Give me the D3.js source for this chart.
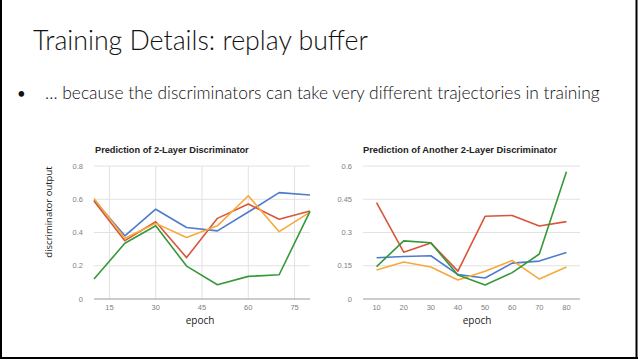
<!DOCTYPE html>
<html><head><meta charset="utf-8">
<script src="https://cdn.jsdelivr.net/npm/d3@7"></script>
<style>body{margin:0;background:#fff}svg{display:block}</style>
</head><body>
<script>
// ---- data ----
const epochs = [10, 20, 30, 40, 50, 60, 70, 80];
const seriesNames = ["blue", "red", "orange", "green"];
const leftBlue   = [0.595, 0.38, 0.54, 0.43, 0.41, 0.523, 0.64, 0.626];
const leftRed    = [0.589, 0.351, 0.465, 0.249, 0.485, 0.571, 0.48, 0.529];
const leftOrange = [0.605, 0.365, 0.455, 0.37, 0.44, 0.621, 0.405, 0.523];
const leftGreen  = [0.12, 0.335, 0.441, 0.198, 0.086, 0.136, 0.146, 0.527];
const rightBlue   = [0.186, 0.192, 0.195, 0.11, 0.095, 0.162, 0.171, 0.21];
const rightRed    = [0.435, 0.211, 0.253, 0.126, 0.373, 0.377, 0.329, 0.349];
const rightOrange = [0.131, 0.167, 0.144, 0.086, 0.125, 0.174, 0.09, 0.144];
const rightGreen  = [0.146, 0.262, 0.254, 0.108, 0.063, 0.119, 0.203, 0.574];
const leftXTicks = [15, 30, 45, 60, 75];
const leftYTicks = [0, 0.2, 0.4, 0.6, 0.8];
const rightXTicks = [10, 20, 30, 40, 50, 60, 70, 80];
const rightYTicks = [0, 0.15, 0.3, 0.45, 0.6];
const slideTitle = "Training Details: replay buffer";
const bulletText = "\u2026 because the discriminators can take very different trajectories in training";
const leftTitle = "Prediction of 2-Layer Discriminator";
const rightTitle = "Prediction of Another 2-Layer Discriminator";

const colors = {blue:"#4e7bcc", red:"#d9553a", orange:"#f5aa3a", green:"#36983a"};

const W = 638, H = 359;
const svg = d3.select("body").append("svg").attr("width", W).attr("height", H);

// slide border
svg.append("line").attr("x1",1).attr("x2",1).attr("y1",0).attr("y2",H).attr("stroke","#000").attr("stroke-width",2);
svg.append("line").attr("x1",636.5).attr("x2",636.5).attr("y1",0).attr("y2",H).attr("stroke","#000").attr("stroke-width",2);
svg.append("line").attr("x1",0).attr("x2",W).attr("y1",358).attr("y2",358).attr("stroke","#000").attr("stroke-width",2);

function fitText(sel, width){
  const n = sel.node(); const w = n.getComputedTextLength();
  const fs = parseFloat(sel.attr("font-size"));
  sel.attr("font-size", fs * width / w);
}

const t = svg.append("text").attr("x",33).attr("y",50).attr("font-family","Lato, 'Open Sans', sans-serif")
  .attr("font-weight",300).attr("font-size",28).attr("fill","#111").text(slideTitle);
fitText(t, 335);

svg.append("text").attr("x",17).attr("y",99).attr("font-family","Lato, sans-serif").attr("font-size",15).attr("fill","#111").text("\u2022");
const b = svg.append("text").attr("x",45).attr("y",99).attr("font-family","Lato, 'Open Sans', sans-serif")
  .attr("font-weight",300).attr("font-size",16).attr("fill","#111").text(bulletText);
fitText(b, 555);

function chart(cfg){
  const g = svg.append("g");
  const x = d3.scaleLinear().domain(cfg.xDomain).range([cfg.x0, cfg.x1]);
  const y = d3.scaleLinear().domain(cfg.yDomain).range([cfg.y0, cfg.y1]);
  g.selectAll(".hg").data(cfg.yTicks.filter(d=>d!==0)).join("line")
    .attr("x1",cfg.x0).attr("x2",cfg.x1).attr("y1",d=>y(d)).attr("y2",d=>y(d))
    .attr("stroke","#e2e2e2").attr("stroke-width",1);
  if (cfg.vgrid) {
    g.selectAll(".vg").data(cfg.xTicks).join("line")
      .attr("x1",d=>x(d)).attr("x2",d=>x(d)).attr("y1",cfg.y1).attr("y2",cfg.y0)
      .attr("stroke","#e2e2e2").attr("stroke-width",1);
  }
  g.append("line").attr("x1",cfg.x0).attr("x2",cfg.x1).attr("y1",y(0)).attr("y2",y(0))
    .attr("stroke","#9a9a9a").attr("stroke-width",1);
  g.selectAll(".yl").data(cfg.yTicks).join("text")
    .attr("x",cfg.yLabelX).attr("y",d=>y(d)+2.6).attr("text-anchor","end")
    .attr("font-family","Arial, 'Liberation Sans', sans-serif").attr("font-size",7.5).attr("fill","#808080")
    .text(d=>d3.format("")(d));
  g.selectAll(".xl").data(cfg.xTicks).join("text")
    .attr("x",d=>x(d)).attr("y",cfg.y0+10.5).attr("text-anchor","middle")
    .attr("font-family","Arial, 'Liberation Sans', sans-serif").attr("font-size",7.5).attr("fill","#808080")
    .text(d=>d);
  const line = d3.line().x((d,i)=>x(epochs[i])).y(d=>y(d));
  cfg.series.forEach((s,i)=>{
    g.append("path").attr("d", line(s)).attr("fill","none")
      .attr("stroke", colors[seriesNames[i]]).attr("stroke-width",1.6).attr("stroke-linejoin","round");
  });
  const tt = g.append("text").attr("x",cfg.titleX).attr("y",153)
    .attr("font-family","Arial, 'Liberation Sans', sans-serif").attr("font-weight","bold").attr("font-size",8)
    .attr("fill","#222").text(cfg.title);
  fitText(tt, cfg.titleW);
  g.append("text").attr("x",cfg.epochX).attr("y",323.5).attr("text-anchor","middle")
    .attr("font-family","'Open Sans', Lato, sans-serif").attr("font-size",10).attr("fill","#222").text("epoch");
}

chart({x0:94, x1:310, y0:299, y1:166, xDomain:[10,80], yDomain:[0,0.8],
  xTicks:leftXTicks, yTicks:leftYTicks, vgrid:true, yLabelX:83,
  series:[leftBlue,leftRed,leftOrange,leftGreen], title:leftTitle, titleX:95, titleW:154, epochX:200});
chart({x0:363, x1:580, y0:299, y1:166, xDomain:[5,85], yDomain:[0,0.6],
  xTicks:rightXTicks, yTicks:rightYTicks, vgrid:false, yLabelX:352,
  series:[rightBlue,rightRed,rightOrange,rightGreen], title:rightTitle, titleX:363, titleW:194, epochX:477});

svg.append("text").attr("transform","translate(52,212) rotate(-90)").attr("text-anchor","middle")
  .attr("font-family","'Open Sans', Lato, sans-serif").attr("font-size",9.5).attr("fill","#222").text("discriminator output");
</script>
</body></html>
